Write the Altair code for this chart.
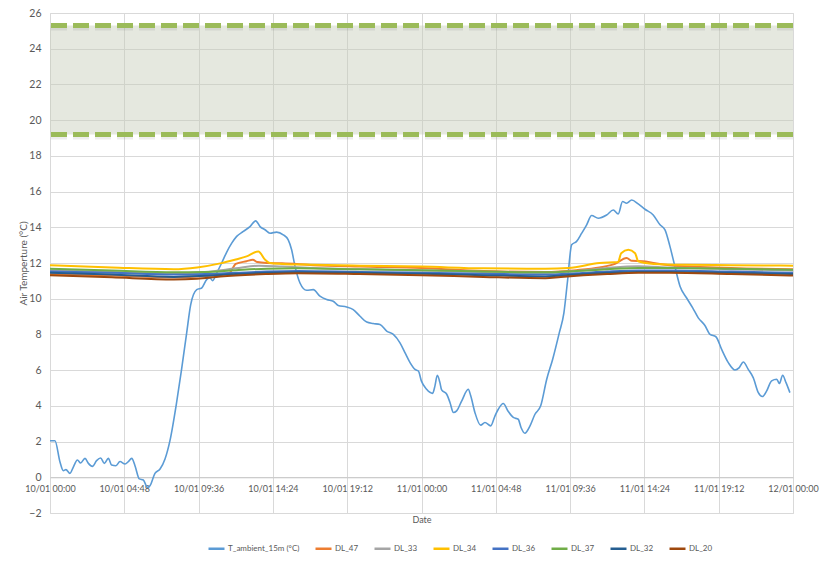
import altair as alt
import pandas as pd

# ---------------- data ----------------
tick_hours = [0, 4.8, 9.6, 14.4, 19.2, 24, 28.8, 33.6, 38.4, 43.2, 48]
tick_labels = ["10/01 00:00", "10/01 04:48", "10/01 09:36", "10/01 14:24", "10/01 19:12",
               "11/01 00:00", "11/01 04:48", "11/01 09:36", "11/01 14:24", "11/01 19:12",
               "12/01 00:00"]
y_ticks = list(range(-2, 27, 2))

band_low = 19.2
band_high = 25.3

series_names = ["T_ambient_15m (°C)", "DL_47", "DL_33", "DL_34", "DL_36", "DL_37", "DL_32", "DL_20"]
series_colors = ["#5B9BD5", "#ED7D31", "#A5A5A5", "#FFC000", "#4472C4", "#70AD47", "#255E91", "#9E480E"]

amb_h = [0.0, 0.32, 0.65, 0.86, 1.03, 1.29, 1.5, 1.77, 1.98, 2.26, 2.48, 2.74, 3.01, 3.27, 3.51, 3.77,
         3.98, 4.26, 4.52, 4.85, 5.06, 5.28, 5.49, 5.77, 6.03, 6.29, 6.46, 6.78, 7.11, 7.43, 7.75,
         8.18, 8.5, 8.83, 9.09, 9.48, 9.8, 10.12, 10.34, 10.51, 10.77, 11.09, 11.41, 11.74, 12.06,
         12.49, 12.92, 13.29, 13.57, 13.89, 14.21, 14.64, 15.07, 15.39, 15.61, 15.83, 16.15, 16.58,
         17.01, 17.44, 17.87, 18.3, 18.62, 19.16, 19.59, 20.03, 20.46, 20.88, 21.32, 21.75, 22.18,
         22.61, 22.93, 23.26, 23.58, 23.8, 23.99, 24.33, 24.72, 24.87, 25.02, 25.19, 25.3, 25.63,
         25.84, 26.06, 26.27, 26.6, 27.02, 27.18, 27.45, 27.82, 28.1, 28.47, 28.75, 28.96, 29.28,
         29.61, 29.93, 30.25, 30.43, 30.68, 31.01, 31.33, 31.7, 32.09, 32.47, 32.9, 33.2, 33.42,
         33.7, 34.02, 34.35, 34.67, 34.99, 35.42, 35.96, 36.39, 36.71, 36.99, 37.25, 37.58, 38.0,
         38.44, 38.97, 39.41, 39.73, 40.05, 40.37, 40.7, 41.13, 41.52, 41.88, 42.31, 42.64, 43.02,
         43.39, 43.82, 44.25, 44.53, 44.79, 45.11, 45.43, 45.76, 46.02, 46.3, 46.62, 46.95, 47.12,
         47.33, 47.55, 47.8]
amb_v = [2.05, 2.05, 0.84, 0.37, 0.43, 0.22, 0.56, 0.97, 0.8, 1.06, 0.78, 0.61, 0.93, 1.08, 0.78, 1.06,
         0.69, 0.65, 0.88, 0.74, 0.88, 1.06, 0.65, -0.09, -0.15, -0.56, -0.47, 0.22, 0.46, 1.02, 2.05,
         4.19, 6.04, 8.09, 9.67, 10.51, 10.6, 11.07, 11.16, 11.01, 11.44, 12.0, 12.6, 13.11, 13.49,
         13.77, 14.04, 14.36, 14.04, 13.86, 13.67, 13.73, 13.58, 13.3, 12.74, 11.81, 10.88, 10.47,
         10.51, 10.14, 9.95, 9.86, 9.62, 9.54, 9.39, 9.02, 8.69, 8.61, 8.55, 8.19, 8.0,
         7.53, 6.98, 6.42, 6.04, 5.95, 5.4, 4.93, 4.7, 5.12, 5.71, 5.3, 4.89, 4.65,
         4.19, 3.63, 3.72, 4.28, 4.93, 4.56, 3.63, 2.92, 3.07, 2.88, 3.44, 3.81, 4.13,
         3.68, 3.35, 3.25, 2.79, 2.47, 2.88, 3.53, 4.0, 5.49, 6.6, 8.09, 9.21, 10.88,
         13.02, 13.21, 13.67, 14.14, 14.66, 14.51, 14.69, 14.97, 14.75, 15.44, 15.35, 15.53, 15.31,
         15.01, 14.69, 14.14, 13.86, 12.93, 11.81, 10.7, 10.04, 9.49, 8.93, 8.5, 8.0, 7.87,
         7.16, 6.42, 6.01, 6.14, 6.46, 6.04, 5.58, 4.74, 4.52, 4.84, 5.4, 5.49, 5.25,
         5.71, 5.3, 4.74]

dl47_h = [0, 4, 8, 9.5, 11, 11.6, 12.0, 12.7, 13.1, 13.4, 14, 15, 17, 20, 24, 28, 32, 34, 35.5, 36.5,
          37.25, 37.6, 38.3, 39, 40.3, 42, 44, 48]
dl47_v = [11.38, 11.3, 11.2, 11.25, 11.35, 11.45, 11.95, 12.1, 12.18, 12.05, 12.0, 11.98, 11.88, 11.8,
          11.72, 11.55, 11.5, 11.6, 11.75, 11.95, 12.28, 12.12, 12.1, 12.0, 11.85, 11.78, 11.72, 11.65]

dl33_h = [0, 4, 8, 10, 12, 13.5, 15, 17, 20, 24, 28, 32, 34, 36, 38, 40, 44, 48]
dl33_v = [11.6, 11.5, 11.42, 11.5, 11.7, 11.85, 11.8, 11.72, 11.65, 11.58, 11.5, 11.45, 11.55, 11.72,
          11.82, 11.75, 11.65, 11.58]

dl34_h = [0, 4, 8, 9.5, 11, 12, 12.7, 13.46, 13.9, 14.2, 15, 17, 20, 24, 28, 32, 33.5, 35.5, 36.7,
          36.9, 37.36, 37.8, 38.0, 39, 41, 44, 48]
dl34_v = [11.88, 11.75, 11.65, 11.75, 11.98, 12.2, 12.37, 12.65, 12.18, 12.0, 11.95, 11.9, 11.85, 11.8,
          11.7, 11.68, 11.72, 12.0, 12.05, 12.55, 12.74, 12.55, 12.1, 11.95, 11.9, 11.88, 11.85]

dl36_h = [0, 4, 8, 10, 12, 14, 16, 20, 24, 28, 32, 34, 36, 38, 40, 44, 48]
dl36_v = [11.52, 11.45, 11.35, 11.38, 11.45, 11.52, 11.55, 11.5, 11.45, 11.4, 11.35, 11.42, 11.52,
          11.58, 11.58, 11.52, 11.45]

dl37_h = [0, 4, 8, 10, 12, 14, 16, 20, 24, 28, 32, 34, 36, 38, 40, 44, 48]
dl37_v = [11.68, 11.58, 11.48, 11.5, 11.6, 11.68, 11.7, 11.65, 11.6, 11.52, 11.48, 11.55, 11.65,
          11.72, 11.72, 11.68, 11.62]

dl32_h = [0, 4, 8, 10, 12, 14, 16, 20, 24, 28, 32, 34, 36, 38, 40, 44, 48]
dl32_v = [11.45, 11.35, 11.22, 11.28, 11.38, 11.45, 11.48, 11.45, 11.4, 11.32, 11.25, 11.35, 11.45,
          11.5, 11.5, 11.45, 11.38]

dl20_h = [0, 4, 8, 9.5, 11, 14, 16, 20, 24, 28, 32, 33, 36, 38, 40, 44, 48]
dl20_v = [11.32, 11.2, 11.08, 11.12, 11.25, 11.38, 11.42, 11.38, 11.32, 11.22, 11.15, 11.22, 11.38,
          11.45, 11.45, 11.38, 11.3]

# ---------------- frames ----------------
amb_df = pd.DataFrame({"h": amb_h, "v": amb_v, "series": series_names[0]})
dl_parts = []
for name, hs, vs in [("DL_47", dl47_h, dl47_v), ("DL_33", dl33_h, dl33_v), ("DL_34", dl34_h, dl34_v),
                     ("DL_36", dl36_h, dl36_v), ("DL_37", dl37_h, dl37_v), ("DL_32", dl32_h, dl32_v),
                     ("DL_20", dl20_h, dl20_v)]:
    dl_parts.append(pd.DataFrame({"h": hs, "v": vs, "series": name}))
dl_df = pd.concat(dl_parts, ignore_index=True)
dl_df["order"] = dl_df["series"].map({n: i for i, n in enumerate(series_names)})

band_df = pd.DataFrame({"h": [tick_hours[0]], "h2": [tick_hours[-1]], "v": [band_low], "v2": [band_high]})
lim_df = pd.DataFrame({"v": [band_low, band_high]})

FONT = "Liberation Sans Narrow, Lato, sans-serif"
TXT = "#595959"
GRID = "#d9d9d9"

label_js = "[" + ",".join("'" + s + "'" for s in tick_labels) + "]"

x_scale = alt.Scale(domain=[tick_hours[0], tick_hours[-1]], nice=False, zero=False)
y_scale = alt.Scale(domain=[y_ticks[0], y_ticks[-1]], nice=False, zero=False)

x_axis = alt.Axis(values=tick_hours, labelExpr=label_js + "[round(datum.value/4.8)]",
                  title="Date", offset=-35.71, ticks=False, domainColor="#c8c8c8",
                  labelPadding=7, labelFontSize=9, labelColor=TXT, labelFont=FONT,
                  labelOverlap=False,
                  titleFontSize=9, titleColor=TXT, titleFont=FONT, titleFontWeight="normal",
                  titleY=42, titleBaseline="middle", gridColor=GRID, labelFlush=False)
y_axis = alt.Axis(values=y_ticks, title="Air Temperture (°C)", ticks=False, domain=False,
                  labelPadding=9, labelFontSize=10.5, labelColor=TXT, labelFont=FONT,
                  labelOverlap=False,
                  titleFontSize=10, titleColor=TXT, titleFont=FONT, titleFontWeight="normal",
                  titleX=-27, titleY=250, titleAlign="center", titleBaseline="middle",
                  gridColor=GRID)


def X(field):
    return alt.X(field, type="quantitative", scale=x_scale, axis=x_axis)


def Y(field):
    return alt.Y(field, type="quantitative", scale=y_scale, axis=y_axis)


color = alt.Color("series:N", scale=alt.Scale(domain=series_names, range=series_colors),
                  legend=alt.Legend(title=None, orient="none", direction="horizontal",
                                    legendX=157, legendY=526, symbolType="stroke",
                                    symbolSize=256, symbolStrokeWidth=2.5, labelFontSize=8,
                                    labelFont=FONT, labelColor=TXT, labelOffset=2,
                                    columnPadding=10))

band = alt.Chart(band_df).mark_rect(color="#c6cdb8", opacity=0.45).encode(
    x=X("h"), x2="h2", y=Y("v"), y2="v2")

shadow = alt.Chart(lim_df).mark_rule(strokeDash=[16, 6], strokeWidth=4, color="#000000",
                                     opacity=0.07, yOffset=3).encode(y=Y("v"))
dashes = alt.Chart(lim_df).mark_rule(strokeDash=[16, 6], strokeWidth=5,
                                     color="#9BBB59").encode(y=Y("v"))

amb = alt.Chart(amb_df).mark_line(strokeWidth=1.6, interpolate="monotone").encode(
    x=X("h"), y=Y("v"), color=color)

dl = alt.Chart(dl_df).mark_line(strokeWidth=2, interpolate="monotone").encode(
    x=X("h"), y=Y("v"), color=color, detail="order:O")

chart = alt.layer(band, shadow, dashes, amb, dl).properties(
    width=743, height=500, autosize="none",
    padding={"left": 42, "top": 5, "right": 30, "bottom": 41},
).configure_view(stroke=None).configure(background="white")

chart.save("out.html", embed_options={"renderer": "svg", "actions": False})
